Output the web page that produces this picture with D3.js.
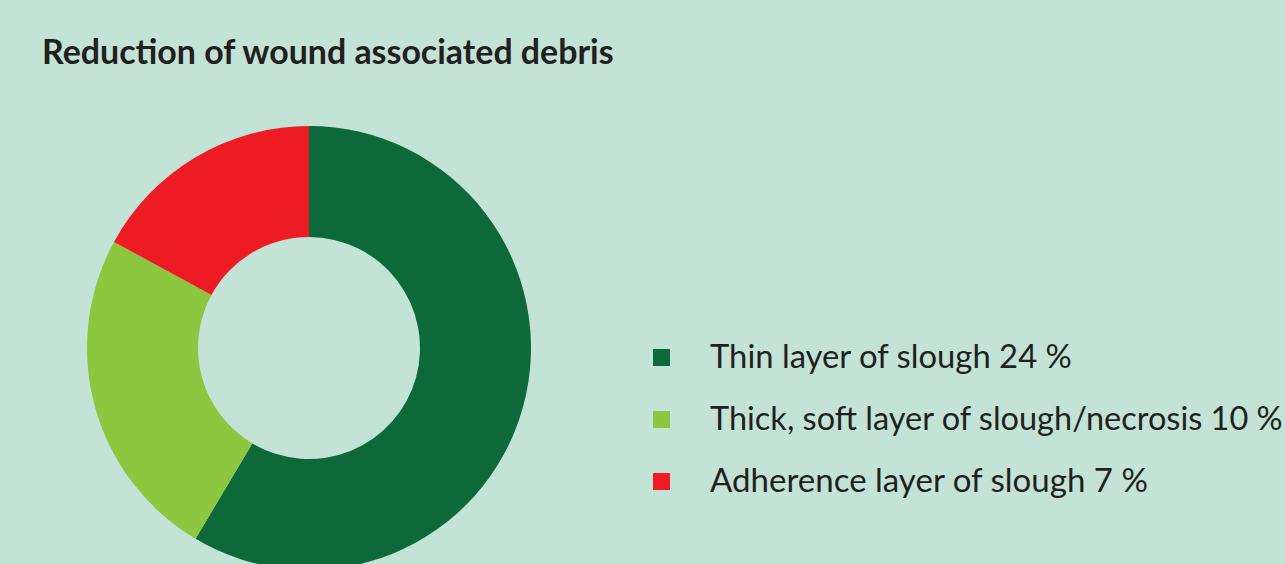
<!DOCTYPE html>
<html><head><meta charset="utf-8">
<script src="https://cdn.jsdelivr.net/npm/d3@7"></script>
<style>html,body{margin:0;padding:0;background:#c2e3d6;overflow:hidden}</style>
</head><body><svg id="c" width="1285" height="564"></svg>
<script>
const title = "Reduction of wound associated debris";
const categories = ["Thin layer of slough", "Thick, soft layer of slough/necrosis", "Adherence layer of slough"];
const values = [24, 10, 7];
const colors = ["#0e693a", "#8dc63f", "#ed1c24"];

const svg = d3.select("#c");
svg.append("rect").attr("width",1285).attr("height",564).attr("fill","#c2e3d6");

function fit(sel, target){
  const w = sel.node().getComputedTextLength();
  const fs = parseFloat(sel.attr("font-size"));
  sel.attr("font-size", fs*target/w);
}

const t = svg.append("text").attr("x",42).attr("y",64)
  .attr("font-family","Lato, 'Open Sans', sans-serif").attr("font-weight","bold")
  .attr("font-size",32).attr("fill","#231f20").text(title);
fit(t, 572);

const pie = d3.pie().sort(null).value(d=>d);
const arc = d3.arc().innerRadius(111).outerRadius(222);
const g = svg.append("g").attr("transform","translate(309,348)");
g.selectAll("path").data(pie(values)).join("path")
  .attr("d", arc).attr("fill",(d,i)=>colors[i]);

const targets = [362, 573, 438];
const lg = svg.append("g");
const y = d3.scalePoint().domain(d3.range(categories.length)).range([368, 492]);
categories.forEach((c,i)=>{
  lg.append("rect").attr("x",653).attr("y",y(i)-19).attr("width",17).attr("height",17).attr("fill",colors[i]);
  const tx = lg.append("text").attr("x",710).attr("y",y(i))
    .attr("font-family","Lato, 'Open Sans', sans-serif").attr("font-size",30)
    .attr("fill","#231f20").text(c + " " + values[i] + " %");
  fit(tx, targets[i]);
});
</script></body></html>
